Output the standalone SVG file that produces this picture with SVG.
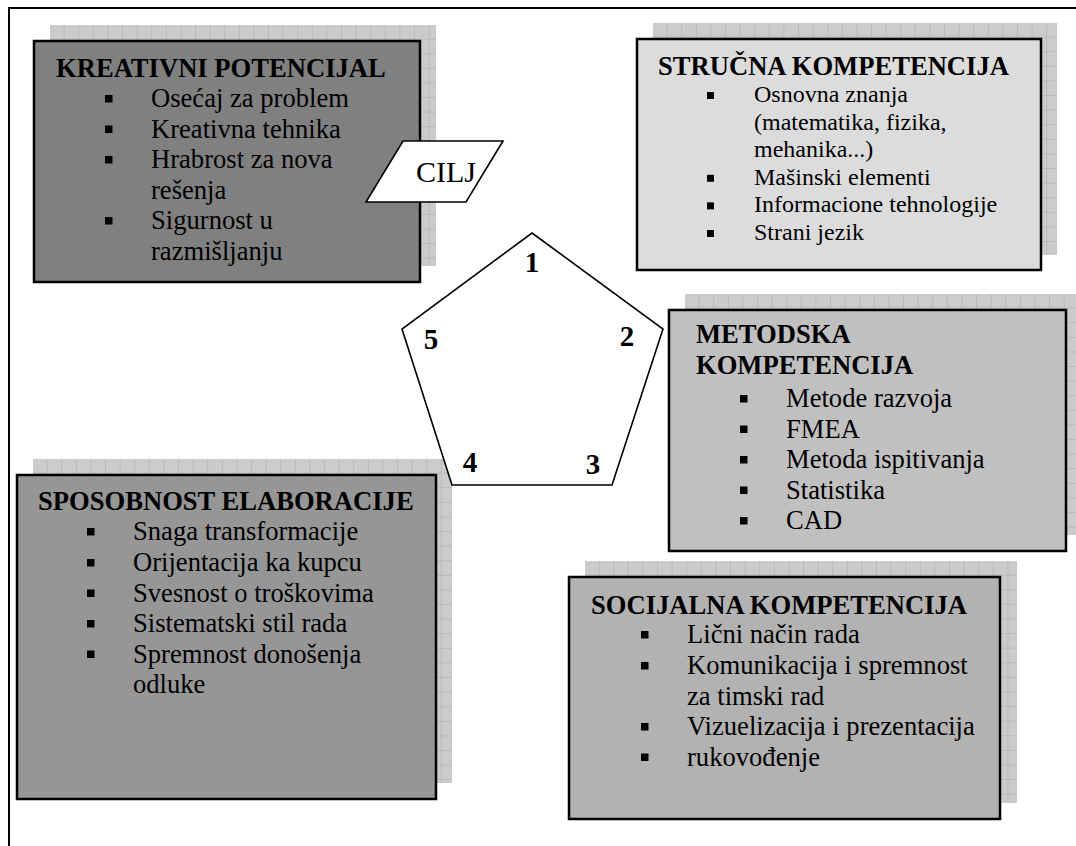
<svg xmlns="http://www.w3.org/2000/svg" width="1076" height="846" viewBox="0 0 1076 846">
  <style>
    text { font-family: "Liberation Serif", "Times New Roman", serif; fill: #000; }
    .t { font-weight: bold; font-size: 26.6px; }
    .i { font-size: 26.6px; }
    .s { font-size: 24px; }
    .num { font-weight: bold; font-size: 29px; text-anchor: middle; }
    .card { stroke: #000; stroke-width: 2.5; }
    .shade { fill: url(#grid); }
    .outline { fill: #fff; stroke: #000; stroke-width: 1.6; stroke-linejoin: miter; }
  </style>
  <defs>
    <!-- checkered drop-shadow fill behind each card -->
    <pattern id="grid" patternUnits="userSpaceOnUse" width="14.6" height="14.6">
      <rect width="14.6" height="14.6" fill="#cbcbcb"/>
      <path d="M14.6 0V14.6M0 14.6H14.6" stroke="#a8a8a8" stroke-width="1" fill="none"/>
    </pattern>
    <rect id="b" width="7.5" height="7.5" fill="#000"/>
    <rect id="bs" width="7" height="7" fill="#000"/>
  </defs>

  <!-- page frame -->
  <path d="M9 846V8H1076" fill="none" stroke="#000" stroke-width="2"/>

  <g id="kreativni-potencijal">
    <g transform="translate(50,25)"><rect class="shade" width="386" height="241"/></g>
    <rect class="card" x="34" y="41" width="386" height="241" fill="#808080"/>
    <text class="t" x="56" y="77">KREATIVNI POTENCIJAL</text>
    <use href="#b" x="105" y="95"/>
    <use href="#b" x="105" y="125.5"/>
    <use href="#b" x="105" y="156"/>
    <use href="#b" x="105" y="217"/>
    <text class="i" x="151" y="107">Osećaj za problem</text>
    <text class="i" x="151" y="137.5">Kreativna tehnika</text>
    <text class="i" x="151" y="168">Hrabrost za nova</text>
    <text class="i" x="151" y="198.5">rešenja</text>
    <text class="i" x="151" y="229">Sigurnost u</text>
    <text class="i" x="151" y="259.5">razmišljanju</text>
  </g>

  <g id="strucna-kompetencija">
    <g transform="translate(653,23)"><rect class="shade" width="404" height="232"/></g>
    <rect class="card" x="637" y="39" width="404" height="231" fill="#dcdcdc"/>
    <text class="t" x="658" y="75">STRUČNA KOMPETENCIJA</text>
    <use href="#bs" x="707" y="92"/>
    <use href="#bs" x="707" y="174.8"/>
    <use href="#bs" x="707" y="202.4"/>
    <use href="#bs" x="707" y="230"/>
    <text class="s" x="754" y="102">Osnovna znanja</text>
    <text class="s" x="754" y="129.6">(matematika, fizika,</text>
    <text class="s" x="754" y="157.2">mehanika...)</text>
    <text class="s" x="754" y="184.8">Mašinski elementi</text>
    <text class="s" x="754" y="212.4">Informacione tehnologije</text>
    <text class="s" x="754" y="240">Strani jezik</text>
  </g>

  <g id="metodska-kompetencija">
    <g transform="translate(685,294)"><rect class="shade" width="397" height="241"/></g>
    <rect class="card" x="669" y="310" width="397" height="241" fill="#c0c0c0"/>
    <text class="t" x="696" y="343">METODSKA</text>
    <text class="t" x="696" y="374">KOMPETENCIJA</text>
    <use href="#b" x="740" y="395"/>
    <use href="#b" x="740" y="425.5"/>
    <use href="#b" x="740" y="456"/>
    <use href="#b" x="740" y="486.5"/>
    <use href="#b" x="740" y="517"/>
    <text class="i" x="786" y="407">Metode razvoja</text>
    <text class="i" x="786" y="437.5">FMEA</text>
    <text class="i" x="786" y="468">Metoda ispitivanja</text>
    <text class="i" x="786" y="498.5">Statistika</text>
    <text class="i" x="786" y="529">CAD</text>
  </g>

  <g id="sposobnost-elaboracije">
    <g transform="translate(33,459)"><rect class="shade" width="419" height="324"/></g>
    <rect class="card" x="17" y="475" width="419" height="324" fill="#969696"/>
    <text class="t" x="38" y="510">SPOSOBNOST ELABORACIJE</text>
    <use href="#b" x="87" y="528"/>
    <use href="#b" x="87" y="559"/>
    <use href="#b" x="87" y="589.5"/>
    <use href="#b" x="87" y="620"/>
    <use href="#b" x="87" y="650.5"/>
    <text class="i" x="133" y="540">Snaga transformacije</text>
    <text class="i" x="133" y="571">Orijentacija ka kupcu</text>
    <text class="i" x="133" y="601.5">Svesnost o troškovima</text>
    <text class="i" x="133" y="632">Sistematski stil rada</text>
    <text class="i" x="133" y="662.5">Spremnost donošenja</text>
    <text class="i" x="133" y="693">odluke</text>
  </g>

  <g id="socijalna-kompetencija">
    <g transform="translate(585,561)"><rect class="shade" width="432" height="242"/></g>
    <rect class="card" x="569" y="577" width="431" height="242" fill="#b2b2b2"/>
    <text class="t" x="591" y="614">SOCIJALNA KOMPETENCIJA</text>
    <use href="#b" x="641" y="631"/>
    <use href="#b" x="641" y="662"/>
    <use href="#b" x="641" y="723"/>
    <use href="#b" x="641" y="753.5"/>
    <text class="i" x="687" y="643">Lični način rada</text>
    <text class="i" x="687" y="674">Komunikacija i spremnost</text>
    <text class="i" x="687" y="704.5">za timski rad</text>
    <text class="i" x="687" y="735">Vizuelizacija i prezentacija</text>
    <text class="i" x="687" y="765.5">rukovođenje</text>
  </g>

  <g id="pentagon">
    <polygon class="outline" points="532,233 663,329 612,485 452,485 402,329"/>
    <text class="num" x="532" y="272">1</text>
    <text class="num" x="627" y="346">2</text>
    <text class="num" x="593" y="474">3</text>
    <text class="num" x="470" y="472">4</text>
    <text class="num" x="431" y="349">5</text>
  </g>

  <g id="cilj">
    <polygon class="outline" points="403,141 503,141 466,202 366,202"/>
    <text x="416" y="182" font-size="30">CILJ</text>
  </g>
</svg>
